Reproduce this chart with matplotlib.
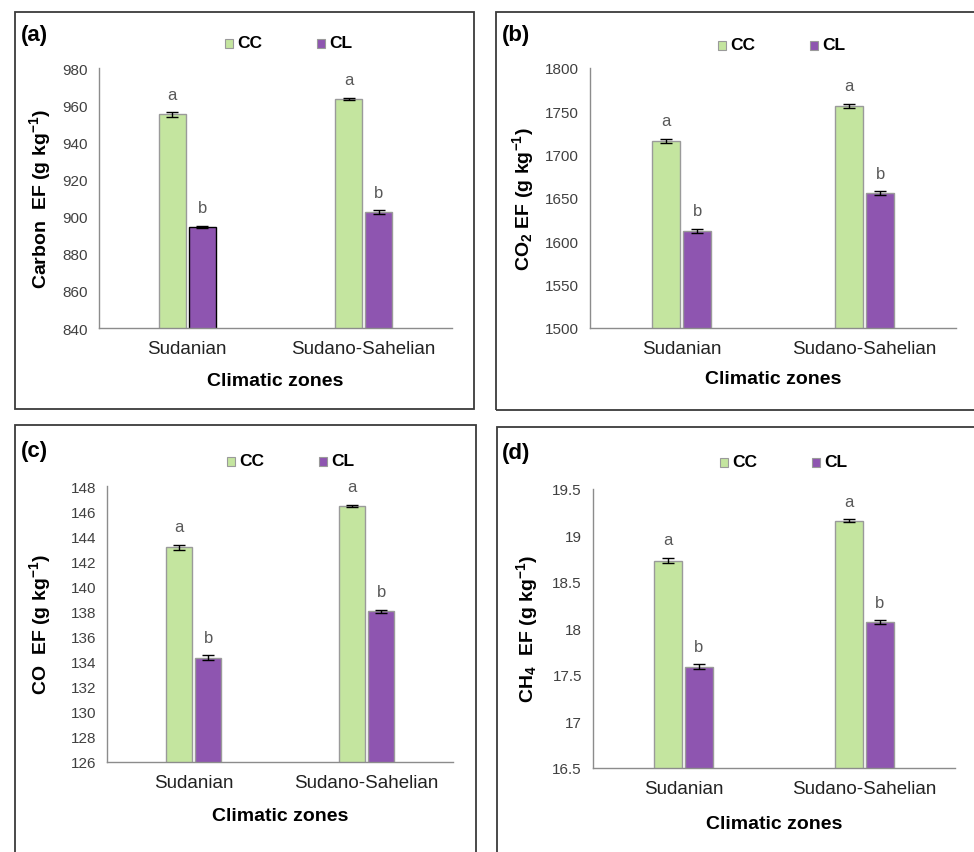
import matplotlib
matplotlib.use("Agg")
import matplotlib.pyplot as plt
from matplotlib.patches import Rectangle
import numpy as np

plt.rcParams["font.family"] = ["Liberation Sans", "DejaVu Sans"]
plt.rcParams["mathtext.default"] = "regular"

W, H = 974, 853

zones = ["Sudanian", "Sudano-Sahelian"]
series = ["CC", "CL"]
colors = {"CC": "#c4e59f", "CL": "#8e55b0"}

carbon_cc = [955.0, 963.5]
carbon_cl = [894.5, 902.5]
carbon_cc_err = [1.2, 0.6]
carbon_cl_err = [0.5, 1.0]

co2_cc = [1716.0, 1756.0]
co2_cl = [1612.0, 1656.0]
co2_cc_err = [2.5, 2.5]
co2_cl_err = [2.5, 2.0]

co_cc = [143.1, 146.4]
co_cl = [134.3, 138.0]
co_cc_err = [0.2, 0.1]
co_cl_err = [0.2, 0.15]

ch4_cc = [18.73, 19.16]
ch4_cl = [17.59, 18.07]
ch4_cc_err = [0.03, 0.015]
ch4_cl_err = [0.025, 0.02]

letters_cc = ["a", "a"]
letters_cl = ["b", "b"]

panels = [
    dict(tag="(a)", ylabel="Carbon  EF (g kg$^{-1}$)", cc=carbon_cc, cl=carbon_cl,
         cce=carbon_cc_err, cle=carbon_cl_err, ylim=(840, 980), step=20, fmt="{:.0f}",
         ax_px=(99, 452, 69, 329), box=(15, 474, 13, 410), ylab_x=40, xlab_y=382,
         leg=(225, 44), tag_xy=(21, 36), edge_cl=["black", "#9a9a9a"]),
    dict(tag="(b)", ylabel="CO$_2$ EF (g kg$^{-1}$)", cc=co2_cc, cl=co2_cl,
         cce=co2_cc_err, cle=co2_cl_err, ylim=(1500, 1800), step=50, fmt="{:.0f}",
         ax_px=(590, 956, 69, 329), box=(496, 980, 13, 411), ylab_x=523, xlab_y=380,
         leg=(718, 46), tag_xy=(502, 36), edge_cl=["#9a9a9a", "#9a9a9a"]),
    dict(tag="(c)", ylabel="CO  EF (g kg$^{-1}$)", cc=co_cc, cl=co_cl,
         cce=co_cc_err, cle=co_cl_err, ylim=(126, 148), step=2, fmt="{:.0f}",
         ax_px=(107, 453, 487, 763), box=(15, 476, 426, 860), ylab_x=40, xlab_y=817,
         leg=(227, 462), tag_xy=(21, 452), edge_cl=["#9a9a9a", "#9a9a9a"]),
    dict(tag="(d)", ylabel="CH$_4$  EF (g kg$^{-1}$)", cc=ch4_cc, cl=ch4_cl,
         cce=ch4_cc_err, cle=ch4_cl_err, ylim=(16.5, 19.5), step=0.5, fmt="{:g}",
         ax_px=(593, 955, 490, 769), box=(497, 980, 428, 860), ylab_x=527, xlab_y=825,
         leg=(720, 463), tag_xy=(502, 454), edge_cl=["#9a9a9a", "#9a9a9a"]),
]

fig = plt.figure(figsize=(W / 100, H / 100), dpi=100)

x = np.arange(len(zones))
bw = 0.153
off = 0.085

for p in panels:
    l, r, t, b = p["ax_px"]
    ax = fig.add_axes([l / W, 1 - b / H, (r - l) / W, (b - t) / H])
    ax.bar(x - off, p["cc"], bw, color=colors["CC"], edgecolor="#9a9a9a", lw=1, zorder=2)
    ax.bar(x + off, p["cl"], bw, color=colors["CL"], edgecolor=p["edge_cl"], lw=1, zorder=2)
    ax.errorbar(x - off, p["cc"], yerr=p["cce"], fmt="none", ecolor="black",
                elinewidth=1, capsize=4, capthick=1, zorder=3)
    ax.errorbar(x + off, p["cl"], yerr=p["cle"], fmt="none", ecolor="black",
                elinewidth=1, capsize=4, capthick=1, zorder=3)
    for i in range(len(zones)):
        ax.annotate(letters_cc[i], (x[i] - off, p["cc"][i] + p["cce"][i]),
                    xytext=(0, 13), textcoords="offset points", ha="center",
                    va="center", fontsize=12, color="#595959")
        ax.annotate(letters_cl[i], (x[i] + off, p["cl"][i] + p["cle"][i]),
                    xytext=(0, 13), textcoords="offset points", ha="center",
                    va="center", fontsize=12, color="#595959")
    ax.set_xlim(-0.5, 1.5)
    ax.set_ylim(*p["ylim"])
    ticks = np.arange(p["ylim"][0], p["ylim"][1] + p["step"] / 2, p["step"])
    ax.set_yticks(ticks)
    ax.set_yticklabels([p["fmt"].format(v) for v in ticks], fontsize=11, color="#404040")
    ax.set_xticks(x)
    ax.set_xticklabels(zones, fontsize=13.5, color="#222222")
    ax.tick_params(axis="both", length=0)
    ax.tick_params(axis="y", pad=8)
    ax.tick_params(axis="x", pad=9)
    for s in ["top", "right"]:
        ax.spines[s].set_visible(False)
    for s in ["left", "bottom"]:
        ax.spines[s].set_color("#8c8c8c")
        ax.spines[s].set_linewidth(1)

    fig.text(p["ylab_x"] / W, 1 - ((t + b) / 2) / H, p["ylabel"], rotation=90,
             ha="center", va="center", fontsize=14, fontweight="bold")
    fig.text(((l + r) / 2) / W, 1 - p["xlab_y"] / H, "Climatic zones",
             ha="center", va="center", fontsize=14, fontweight="bold")
    fig.text(p["tag_xy"][0] / W, 1 - p["tag_xy"][1] / H, p["tag"],
             ha="left", va="center", fontsize=16, fontweight="bold")

    lx, ly = p["leg"]
    for k, name in enumerate(series):
        mx = lx + k * 92
        fig.patches.append(Rectangle((mx / W, 1 - (ly + 4.5) / H), 8 / W, 9 / H,
                                     transform=fig.transFigure, facecolor=colors[name],
                                     edgecolor="#9a9a9a", lw=0.8))
        fig.text((mx + 12) / W, 1 - ly / H, name, ha="left", va="center",
                 fontsize=12.5, fontweight="bold")

    bl, br, bt, bb = p["box"]
    fig.patches.append(Rectangle((bl / W, 1 - bb / H), (br - bl) / W, (bb - bt) / H,
                                 transform=fig.transFigure, fill=False,
                                 edgecolor="#3a3a3a", lw=1.3))

fig.savefig("out.png", dpi=100)
